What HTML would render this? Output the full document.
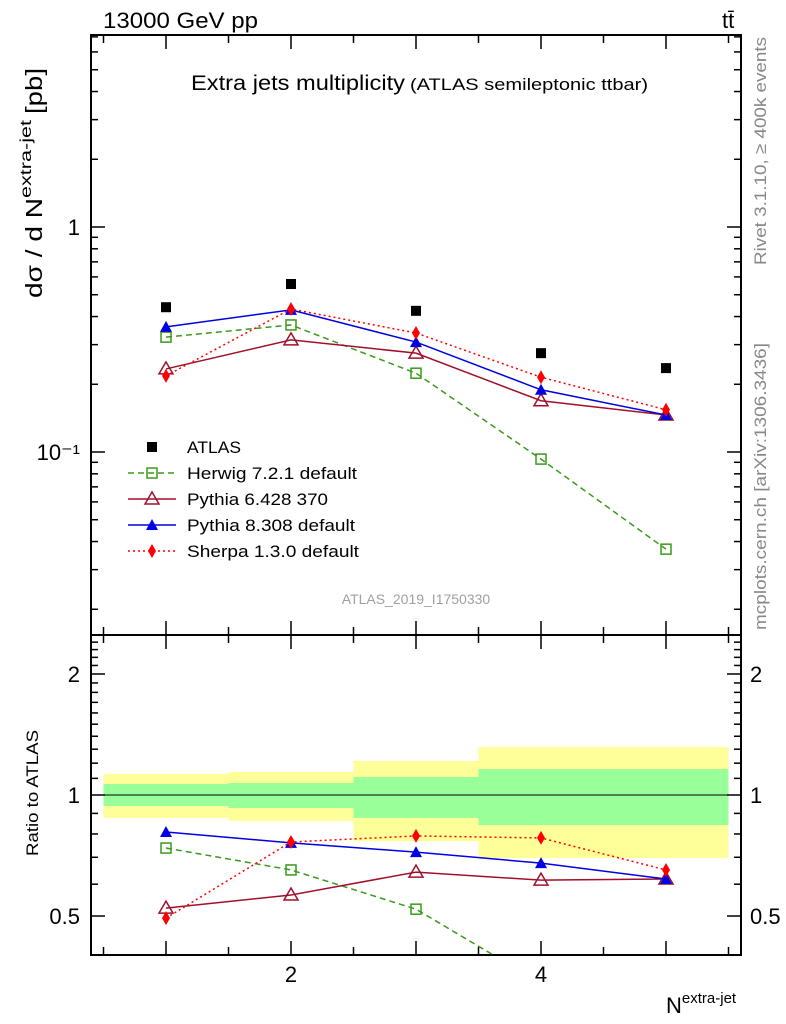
<!DOCTYPE html>
<html><head><meta charset="utf-8"><style>
html,body{margin:0;background:#fff;font-family:"Liberation Sans",sans-serif;overflow:hidden;width:786px;height:1024px}
svg{display:block}
</style></head><body>
<svg id="c" width="786" height="1024" xmlns="http://www.w3.org/2000/svg" font-family="Liberation Sans, sans-serif" overflow="hidden"></svg>
<script>
const categories=[1,2,3,4,5];
const atlas=[0.44,0.558,0.424,0.275,0.236];
const herwig=[0.324,0.367,0.224,0.093,0.037];
const pythia6=[0.234,0.315,0.275,0.169,0.146];
const pythia8=[0.36,0.428,0.308,0.189,0.146];
const sherpa=[0.218,0.432,0.338,0.215,0.154];
const rHerwig=[0.738,0.651,0.52,0.34,0.157];
const rPythia6=[0.523,0.564,0.643,0.614,0.618];
const rPythia8=[0.809,0.76,0.721,0.677,0.618];
const rSherpa=[0.494,0.764,0.791,0.782,0.651];
const bandYUp=[1.128,1.141,1.215,1.316,1.316];
const bandYDn=[0.877,0.862,0.768,0.697,0.697];
const bandGUp=[1.065,1.071,1.109,1.16,1.16];
const bandGDn=[0.939,0.928,0.877,0.842,0.842];
const mainTickLabels=["10\u207B\u00B9","1"];
const ratioTickLabels=["0.5","1","2"];

const svg=document.getElementById('c');const NS='http://www.w3.org/2000/svg';
function el(t,a,p){const e=document.createElementNS(NS,t);for(const k in a)e.setAttribute(k,a[k]);(p||svg).appendChild(e);return e;}
const L=91,R=741,T=35,M=635,B=955;
const X=v=>L+(v-0.4)*125;
const Y=v=>227-Math.log10(v)*225;
const YR=v=>795-Math.log10(v)*402;

const gB=el('g',{});
categories.forEach((c,i)=>{
 let r=el('rect',{x:X(c-0.5),y:YR(bandYUp[i]),width:125,height:YR(bandYDn[i])-YR(bandYUp[i]),fill:'#ffff99'},gB);
 
 r=el('rect',{x:X(c-0.5),y:YR(bandGUp[i]),width:125,height:YR(bandGDn[i])-YR(bandGUp[i]),fill:'#99ff99'},gB);
 
});
el('line',{x1:L,x2:R,y1:YR(1),y2:YR(1),stroke:'#000','stroke-width':1});

el('rect',{x:L,y:T,width:R-L,height:M-T,fill:'none',stroke:'#000','stroke-width':2});
el('rect',{x:L,y:M,width:R-L,height:B-M,fill:'none',stroke:'#000','stroke-width':2});
for(let v=0.5;v<=5.51;v+=0.5){const maj=Math.abs(v-Math.round(v))<1e-6;const l=maj?14:8;
 [[T,1],[M,1],[M,-1],[B,-1]].forEach(([y0,d])=>el('line',{x1:X(v),x2:X(v),y1:y0,y2:y0+d*l,stroke:'#000','stroke-width':1.5}));}
[2,4].forEach(v=>{const t=el('text',{x:X(v),y:982,'font-size':22,'text-anchor':'middle'});t.textContent=v;});
for(let d=-2;d<=0;d++)for(let m=1;m<10;m++){const v=m*Math.pow(10,d);const y=Y(v);if(y<T||y>M)continue;const l=m==1?14:7;
 el('line',{x1:L,x2:L+l,y1:y,y2:y,stroke:'#000','stroke-width':1.5});el('line',{x1:R,x2:R-l,y1:y,y2:y,stroke:'#000','stroke-width':1.5});}
[[0.1,mainTickLabels[0]],[1,mainTickLabels[1]]].forEach(([v,s])=>{const t=el('text',{x:80,y:Y(v)+8,'font-size':22,'text-anchor':'end'});t.textContent=s;});
for(let v=0.4;v<=2.51;v+=0.1){const y=YR(v);if(y<M||y>B)continue;const maj=[0.5,1,2].some(q=>Math.abs(q-v)<1e-6);const l=maj?14:7;
 el('line',{x1:L,x2:L+l,y1:y,y2:y,stroke:'#000','stroke-width':1.5});el('line',{x1:R,x2:R-l,y1:y,y2:y,stroke:'#000','stroke-width':1.5});}
[0.5,1,2].forEach((v,i)=>{let t=el('text',{x:80,y:YR(v)+8,'font-size':22,'text-anchor':'end'});t.textContent=ratioTickLabels[i];
 t=el('text',{x:750,y:YR(v)+8,'font-size':22});t.textContent=ratioTickLabels[i];});

const clipM=el('clipPath',{id:'cm'});el('rect',{x:L,y:T,width:R-L,height:M-T},clipM);
const clipR=el('clipPath',{id:'cr'});el('rect',{x:L,y:M,width:R-L,height:B-M},clipR);
function marker(g,type,x,y,col){
 if(type=='sq')el('rect',{x:x-5,y:y-5,width:10,height:10,fill:'none',stroke:col,'stroke-width':1.5},g);
 if(type=='fsq')el('rect',{x:x-5,y:y-5,width:10,height:10,fill:col},g);
 if(type=='tri')el('polygon',{points:`${x},${y-7} ${x-7},${y+5} ${x+7},${y+5}`,fill:'none',stroke:col,'stroke-width':1.5},g);
 if(type=='ftri')el('polygon',{points:`${x},${y-6} ${x-6},${y+5} ${x+6},${y+5}`,fill:col},g);
 if(type=='dia')el('polygon',{points:`${x},${y-7} ${x-4},${y} ${x},${y+7} ${x+4},${y}`,fill:col},g);
}
function series(name,vals,ys,clip,col,dash,type,line){
 const g=el('g',{'clip-path':`url(#${clip})`});
 if(line)el('polyline',{points:categories.map((c,i)=>X(c)+','+ys(vals[i])).join(' '),fill:'none',stroke:col,'stroke-width':1.5,'stroke-dasharray':dash},g);
 categories.forEach((c,i)=>marker(g,type,X(c),ys(vals[i]),col));
}
series('atlas-data',atlas,Y,'cm','#000','none','fsq',false);
series('herwig-line',herwig,Y,'cm','#3a9a1a','6,4','sq',true);
series('pythia6-line',pythia6,Y,'cm','#a0102a','none','tri',true);
series('pythia8-line',pythia8,Y,'cm','#0000e0','none','ftri',true);
series('sherpa-line',sherpa,Y,'cm','#ff0000','2,3','dia',true);
series('herwig-ratio',rHerwig,YR,'cr','#3a9a1a','6,4','sq',true);
series('pythia6-ratio',rPythia6,YR,'cr','#a0102a','none','tri',true);
series('pythia8-ratio',rPythia8,YR,'cr','#0000e0','none','ftri',true);
series('sherpa-ratio',rSherpa,YR,'cr','#ff0000','2,3','dia',true);

const leg=[['ATLAS','#000','none','fsq',false,54],['Herwig 7.2.1 default','#3a9a1a','6,4','sq',true,170],['Pythia 6.428 370','#a0102a','none','tri',true,141],['Pythia 8.308 default','#0000e0','none','ftri',true,168],['Sherpa 1.3.0 default','#ff0000','2,3','dia',true,172]];
leg.forEach((e,i)=>{const y=447+i*26;const g=el('g',{});
 if(e[4])el('line',{x1:128,x2:176,y1:y,y2:y,stroke:e[1],'stroke-width':1.5,'stroke-dasharray':e[2]},g);
 marker(g,e[3],152,y,e[1]);const t=el('text',{x:187,y:y+6,'font-size':17,textLength:e[5],lengthAdjust:'spacingAndGlyphs'},g);t.textContent=e[0];});

function txt(s,a,name){const t=el('text',a);t.textContent=s;return t;}
txt('13000 GeV pp',{x:103,y:28,'font-size':22,textLength:155,lengthAdjust:'spacingAndGlyphs'},'energy-label');
txt('tt\u0304',{x:722,y:28,'font-size':22},'process-label');
txt('Extra jets multiplicity',{x:191,y:90,'font-size':21,textLength:214,lengthAdjust:'spacingAndGlyphs'},'plot-title');
txt('(ATLAS semileptonic ttbar)',{x:410,y:90,'font-size':17,textLength:238,lengthAdjust:'spacingAndGlyphs'},'plot-subtitle');
txt('ATLAS_2019_I1750330',{x:416,y:604,'font-size':14,fill:'#a0a0a0','text-anchor':'middle'},'analysis-id');
txt('Rivet 3.1.10, \u2265 400k events',{x:0,y:0,'font-size':17,fill:'#888',transform:'translate(766,265) rotate(-90)',textLength:228,lengthAdjust:'spacingAndGlyphs'},'rivet-label');
txt('mcplots.cern.ch [arXiv:1306.3436]',{x:0,y:0,'font-size':17,fill:'#888',transform:'translate(766,630) rotate(-90)',textLength:287,lengthAdjust:'spacingAndGlyphs'},'mcplots-label');
const yt=txt('',{x:0,y:0,'font-size':23,transform:'translate(42,298) rotate(-90)'},'y-axis-title');
yt.innerHTML='<tspan textLength="100" lengthAdjust="spacingAndGlyphs">d\u03C3 / d N</tspan><tspan font-size="16" dy="-11" textLength="78" lengthAdjust="spacingAndGlyphs">extra-jet</tspan><tspan dy="11" dx="6" textLength="46" lengthAdjust="spacingAndGlyphs">[pb]</tspan>';
txt('Ratio to ATLAS',{x:0,y:0,'font-size':17,transform:'translate(38,856) rotate(-90)',textLength:126,lengthAdjust:'spacingAndGlyphs'},'ratio-axis-title');
const xt=txt('',{x:666,y:1013,'font-size':22},'x-axis-title');
xt.innerHTML='N<tspan font-size="15" dy="-10">extra-jet</tspan>';
</script>
</body></html>
